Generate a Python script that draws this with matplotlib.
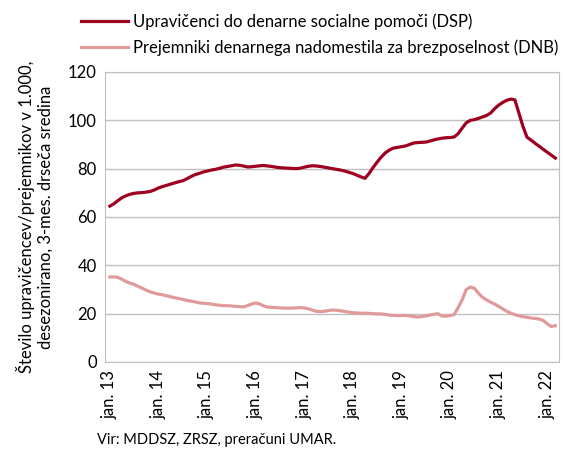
import matplotlib.pyplot as plt
import numpy as np

plt.rcParams['font.family'] = ['Lato', 'DejaVu Sans']

# monthly, jan. 2013 - mar. 2022
dsp = [64.5, 65.5, 66.8, 68.0, 68.8, 69.4, 69.8, 70.0, 70.1, 70.3, 70.6, 71.2,
       72.0, 72.6, 73.1, 73.6, 74.1, 74.6, 75.0, 75.8, 76.7, 77.5, 78.0, 78.6,
       79.0, 79.4, 79.7, 80.1, 80.6, 80.9, 81.2, 81.5, 81.4, 81.1, 80.7, 80.8,
       81.0, 81.2, 81.3, 81.1, 80.9, 80.6, 80.4, 80.3, 80.2, 80.1, 80.0, 80.2,
       80.6, 81.0, 81.2, 81.1, 80.9, 80.6, 80.3, 80.0, 79.7, 79.4, 79.0, 78.5,
       78.0, 77.3, 76.6, 76.0, 78.0, 80.5, 82.7, 84.8, 86.5, 87.7, 88.5, 88.8,
       89.1, 89.4, 90.0, 90.6, 90.8, 90.9, 91.0, 91.4, 91.9, 92.3, 92.6, 92.8,
       92.9, 93.1, 94.5, 96.8, 99.0, 100.0, 100.3, 100.8, 101.4, 102.0, 103.0, 104.8,
       106.3, 107.4, 108.3, 108.8, 108.5, 103.0, 97.5, 93.0, 91.8, 90.5, 89.3, 88.0,
       86.8, 85.6, 84.4]
dnb = [35.2, 35.2, 35.0, 34.2, 33.3, 32.6, 32.1, 31.3, 30.5, 29.7, 29.0, 28.5,
       28.1, 27.8, 27.4, 27.0, 26.6, 26.3, 25.9, 25.5, 25.2, 24.9, 24.5, 24.3,
       24.2, 24.0, 23.7, 23.5, 23.3, 23.3, 23.2, 23.0, 22.9, 22.8, 23.3, 24.0,
       24.4, 24.0, 23.2, 22.7, 22.6, 22.5, 22.4, 22.3, 22.3, 22.3, 22.4, 22.5,
       22.4, 22.0, 21.5, 21.0, 20.8, 21.0, 21.3, 21.5, 21.4, 21.2, 20.9, 20.6,
       20.4, 20.3, 20.2, 20.2, 20.1, 20.0, 19.9, 19.9, 19.7, 19.4, 19.3, 19.2,
       19.2, 19.3, 19.1, 18.8, 18.6, 18.8, 19.1, 19.4, 19.7, 20.0, 19.0, 19.0,
       19.2, 19.6, 22.5, 25.8, 30.0, 31.0, 30.5, 28.5, 26.8, 25.7, 24.8, 24.0,
       23.0, 22.0, 21.0, 20.2, 19.6, 19.1, 18.7, 18.5, 18.2, 18.0, 17.8, 17.2,
       15.8, 14.7, 15.0]
tick_labels = ['jan. 13', 'jan. 14', 'jan. 15', 'jan. 16', 'jan. 17',
               'jan. 18', 'jan. 19', 'jan. 20', 'jan. 21', 'jan. 22']

x = np.arange(len(dsp))

fig = plt.figure(figsize=(5.63, 4.58), dpi=100)
ax = fig.add_axes([105/563, 96/458, 454/563, 290/458])

ax.plot(x, dsp, color='#9E0020', lw=2.3, label='Upravičenci do denarne socialne pomoči (DSP)')
ax.plot(x, dnb, color='#E09A9A', lw=2.3, label='Prejemniki denarnega nadomestila za brezposelnost (DNB)')

ax.set_xlim(-1.2, 110.9)
ax.set_ylim(0, 120)
ax.set_yticks(range(0, 121, 20))
ax.set_xticks(range(0, 109, 12))
ax.set_xticklabels(tick_labels, rotation=90)
ax.tick_params(length=0, labelsize=12, pad=6)
ax.grid(axis='y', color='#C0C0C0', lw=1)
ax.set_axisbelow(True)
for s in ax.spines.values():
    s.set_color('#C0C0C0')

ax.set_ylabel('Število upravičencev/prejemnikov v 1.000,\ndesezonirano, 3-mes. drseča sredina',
              fontsize=12, labelpad=10)

fig.legend(loc='upper left', bbox_to_anchor=(66/563, 1 + 2/458), frameon=False,
           fontsize=12, handlelength=2.8, handletextpad=0.3, labelspacing=0.6)

fig.text(97/563, 18/458, 'Vir: MDDSZ, ZRSZ, preračuni UMAR.', fontsize=10.5, va='center')

fig.savefig('out.png', dpi=100)
